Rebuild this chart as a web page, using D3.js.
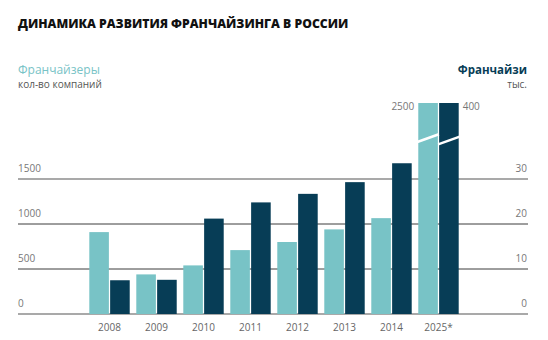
<!DOCTYPE html>
<html>
<head>
<meta charset="utf-8">
<script src="https://cdn.jsdelivr.net/npm/d3@7"></script>
<style>
  html, body { margin: 0; padding: 0; background: #fff; }
  svg { display: block; }
  text { font-family: "Open Sans", "Noto Sans", sans-serif; }
</style>
</head>
<body>
<svg id="chart" width="548" height="340"></svg>
<script>
// Years on the x axis
const years = ["2008", "2009", "2010", "2011", "2012", "2013", "2014", "2025*"];
// Franchisors, number of companies (left axis)
const franchisors = [910, 440, 540, 710, 800, 940, 1065, 2500];
// Franchisees, thousands (right axis)
const franchisees = [7.5, 7.6, 21.2, 24.8, 26.7, 29.3, 33.5, 400];
// Gridline tick values
const leftTicks = [0, 500, 1000, 1500];
const rightTicks = [0, 10, 20, 30];

const colLight = "#78c3c6";
const colDark = "#073d56";

const svg = d3.select("#chart");
const left = 18, right = 527;
const y0 = 314;

// Broken value scales: linear up to the break, compressed above it
const yL = d3.scaleLinear().domain([0, 1800, 2500]).range([y0, 152, 103]);
const yR = d3.scaleLinear().domain([0, 36, 400]).range([y0, 152, 103]);

const x = d3.scaleBand().domain(years).range([65.8, 482.2])
  .paddingInner(0.14).paddingOuter(0.5);
const xs = d3.scaleBand().domain(["l", "r"]).range([0, x.bandwidth()]).paddingInner(0.06);

// Title
svg.append("text")
  .attr("x", left).attr("y", 28)
  .attr("font-family", "Roboto, sans-serif")
  .attr("font-weight", 900)
  .attr("font-size", 12.2)
  .attr("fill", "#111")
  .text("ДИНАМИКА РАЗВИТИЯ ФРАНЧАЙЗИНГА В РОССИИ");

// Series headers
svg.append("text").attr("x", left).attr("y", 74)
  .attr("font-size", 12).attr("fill", colLight).text("Франчайзеры");
svg.append("text").attr("x", left).attr("y", 88)
  .attr("font-size", 10).attr("fill", "#555").text("кол-во компаний");
svg.append("text").attr("x", right).attr("y", 74).attr("text-anchor", "end")
  .attr("font-size", 11.5).attr("font-weight", 700).attr("fill", colDark).text("Франчайзи");
svg.append("text").attr("x", right).attr("y", 88).attr("text-anchor", "end")
  .attr("font-size", 10).attr("fill", "#555").text("тыс.");

// Gridlines
const gridStyle = (i) => (i === 0 || i === leftTicks.length - 1)
  ? { stroke: "#8c8c8c", w: 1.6 } : { stroke: "#3d3d3d", w: 1 };
leftTicks.forEach((t, i) => {
  const gy = yL(t);
  const s = gridStyle(i);
  svg.append("line")
    .attr("x1", left).attr("x2", right + 1)
    .attr("y1", gy).attr("y2", gy)
    .attr("stroke", s.stroke).attr("stroke-width", s.w);
  svg.append("text").attr("x", left).attr("y", gy - 7)
    .attr("font-size", 10).attr("fill", "#777").text(t);
});
rightTicks.forEach((t) => {
  svg.append("text").attr("x", right).attr("y", yR(t) - 7)
    .attr("text-anchor", "end")
    .attr("font-size", 10).attr("fill", "#777").text(t);
});

// Bars
const data = years.map((yr, i) => ({ yr, a: franchisors[i], b: franchisees[i] }));
const g = svg.append("g");
g.selectAll("rect.a").data(data).join("rect")
  .attr("x", d => x(d.yr) + xs("l"))
  .attr("width", xs.bandwidth())
  .attr("y", d => yL(d.a))
  .attr("height", d => y0 - yL(d.a))
  .attr("fill", colLight);
g.selectAll("rect.b").data(data).join("rect")
  .attr("x", d => x(d.yr) + xs("r"))
  .attr("width", xs.bandwidth())
  .attr("y", d => yR(d.b))
  .attr("height", d => y0 - yR(d.b))
  .attr("fill", colDark);

// Break marks on the out-of-scale bars
const broken = data.filter(d => d.a > 1800);
broken.forEach(d => {
  const bx = x(d.yr) + xs("l");
  const bw = xs.bandwidth();
  const by = yL(1800) - 14;
  svg.append("line")
    .attr("x1", bx - 1).attr("x2", bx + bw + 1)
    .attr("y1", by + 4).attr("y2", by - 3.8)
    .attr("stroke", "#fff").attr("stroke-width", 2.5);
  const dx = x(d.yr) + xs("r");
  svg.append("line")
    .attr("x1", dx - 1).attr("x2", dx + bw + 1)
    .attr("y1", by + 6.4).attr("y2", by - 1.4)
    .attr("stroke", "#fff").attr("stroke-width", 2.5);
  // Value labels at the top of the broken bars
  svg.append("text").attr("x", bx - 4).attr("y", yL(d.a) + 7)
    .attr("text-anchor", "end").attr("font-size", 10).attr("fill", "#777").text(d.a);
  svg.append("text").attr("x", dx + bw + 4).attr("y", yR(d.b) + 7)
    .attr("font-size", 10).attr("fill", "#777").text(d.b);
});

// Year labels
svg.selectAll("text.year").data(years).join("text")
  .attr("class", "year")
  .attr("x", d => x(d) + x.bandwidth() / 2)
  .attr("y", 331)
  .attr("text-anchor", "middle")
  .attr("font-size", 10).attr("fill", "#666")
  .text(d => d);
</script>
</body>
</html>
